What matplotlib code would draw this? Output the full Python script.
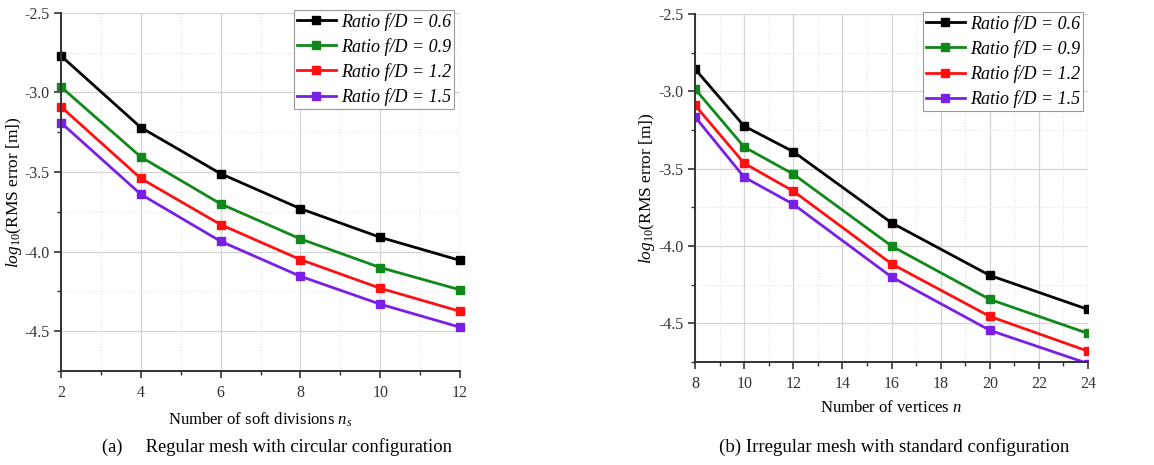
import matplotlib.pyplot as plt
from matplotlib.ticker import MultipleLocator

plt.rcParams['font.family'] = ['Liberation Serif', 'DejaVu Serif']
plt.rcParams['mathtext.fontset'] = 'custom'
plt.rcParams['mathtext.rm'] = 'Liberation Serif'
plt.rcParams['mathtext.it'] = 'Liberation Serif:italic'

# (a) regular mesh, circular configuration
ns = [2, 4, 6, 8, 10, 12]
a_06 = [-2.77, -3.22, -3.51, -3.73, -3.91, -4.055]
a_09 = [-2.965, -3.405, -3.70, -3.92, -4.10, -4.24]
a_12 = [-3.09, -3.54, -3.83, -4.05, -4.23, -4.375]
a_15 = [-3.19, -3.64, -3.935, -4.155, -4.33, -4.475]

# (b) irregular mesh, standard configuration
nv = [8, 10, 12, 16, 20, 24]
b_06 = [-2.856, -3.225, -3.39, -3.85, -4.19, -4.41]
b_09 = [-2.985, -3.36, -3.535, -4.00, -4.345, -4.565]
b_12 = [-3.09, -3.465, -3.645, -4.115, -4.455, -4.68]
b_15 = [-3.165, -3.555, -3.73, -4.20, -4.545, -4.76]

labels = ['Ratio f/D = 0.6', 'Ratio f/D = 0.9', 'Ratio f/D = 1.2', 'Ratio f/D = 1.5']
colors = ['black', '#11891a', '#ff1010', '#7a1fe6']

fig = plt.figure(figsize=(11.54, 4.65), dpi=100)
ax1 = fig.add_axes([0.0529, 0.2022, 0.3457, 0.770])
ax2 = fig.add_axes([0.6023, 0.2215, 0.3405, 0.7484])


def style(ax, xlim):
    ax.set_xlim(*xlim)
    ax.set_ylim(-4.75, -2.5)
    ax.xaxis.set_major_locator(MultipleLocator(2))
    ax.xaxis.set_minor_locator(MultipleLocator(1))
    ax.yaxis.set_major_locator(MultipleLocator(0.5))
    ax.yaxis.set_minor_locator(MultipleLocator(0.25))
    ax.yaxis.set_major_formatter(lambda v, p: '%.1f' % v)
    ax.grid(which='major', color='#d4d4d4', linewidth=0.9)
    ax.grid(which='minor', color='#e4e4e4', linewidth=0.8, linestyle=':')
    ax.set_axisbelow(True)
    for s in ['top', 'right']:
        ax.spines[s].set_visible(False)
    for s in ['left', 'bottom']:
        ax.spines[s].set_color('#333333')
        ax.spines[s].set_linewidth(1.4)
    ax.tick_params(which='major', direction='out', length=5, width=1.2,
                   color='#333333', labelsize=11.5, labelcolor='#333333')
    ax.tick_params(which='minor', direction='out', length=3, width=1.0,
                   color='#333333')
    ax.tick_params(axis='x', which='major', pad=5)
    ax.set_ylabel(r'$log_{10}$(RMS error [m])', fontsize=12.5)


style(ax1, (2, 12))
style(ax2, (8, 24))

anchors = [(0.3934, 0.9785), (0.9385, 0.974)]
for ax, x, series, anc in [(ax1, ns, [a_06, a_09, a_12, a_15], anchors[0]),
                           (ax2, nv, [b_06, b_09, b_12, b_15], anchors[1])]:
    for y, c, lab in zip(series, colors, labels):
        ax.plot(x, y, color=c, linewidth=2.0, marker='s', markersize=5.8,
                label=lab, clip_on=(ax is ax2))
    leg = ax.legend(loc='upper right', bbox_to_anchor=anc,
                    bbox_transform=fig.transFigure,
                    prop={'style': 'italic', 'size': 13},
                    frameon=True, fancybox=False, framealpha=1,
                    handlelength=2.15, handletextpad=0.3, borderpad=0.15,
                    labelspacing=0.4, borderaxespad=0)
    leg.get_frame().set_edgecolor('#999999')
    leg.get_frame().set_linewidth(0.8)

ax1.set_xlabel(r'Number of soft divisions $n_s$', fontsize=12, labelpad=7)
ax2.set_xlabel(r'Number of vertices $n$', fontsize=12, labelpad=6)
ax1.yaxis.set_label_coords(-0.093, 0.5)
ax2.yaxis.set_label_coords(-0.097, 0.5)

fig.text(0.240, 0.038, '(a)     Regular mesh with circular configuration',
         ha='center', va='center', fontsize=13.3)
fig.text(0.775, 0.038, '(b) Irregular mesh with standard configuration',
         ha='center', va='center', fontsize=13.6)

plt.savefig('out.png', dpi=100)
